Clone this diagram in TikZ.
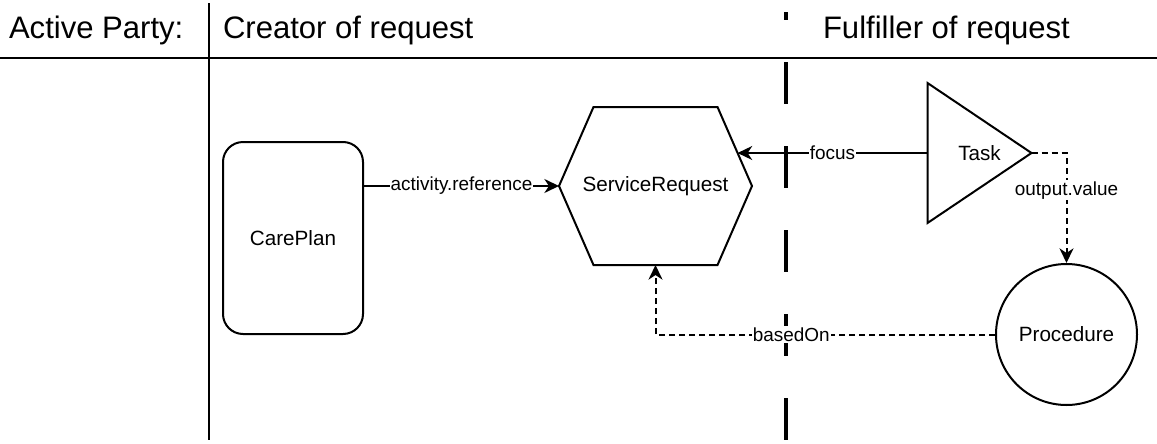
\documentclass[tikz,border=0pt]{standalone}
\usepackage{fontspec}
\setmainfont{Liberation Sans}
\usetikzlibrary{calc, positioning, arrows.meta}

\begin{document}
\begin{tikzpicture}[x=0.75pt, y=-0.75pt, line width=1.5pt,
                every node/.style={inner sep=0.5mm},
                hdr/.style={font=\fontsize{23.3}{28}\selectfont, anchor=base west, inner sep=0pt},
                res/.style={font=\fontsize{15.5}{19}\selectfont},
                box/.style={res, draw, rounded corners=15pt, minimum width=105pt, minimum height=144pt},
                hexa/.style={res, outer sep=0pt, minimum width=144.75pt, minimum height=118.5pt},
                tri/.style={res, outer sep=0pt, minimum width=78pt, minimum height=105pt},
                circ/.style={res, draw, circle, minimum size=105.75pt},
                lbl/.style={font=\fontsize{14.2}{17}\selectfont, fill=white, inner sep=0.3mm},
                ref/.style={-{Stealth[length=11pt, width=10.5pt, inset=3.5pt]}},
                dref/.style={ref, dash pattern=on 4.5pt off 3pt},
                lane/.style={line width=3pt, dash pattern=on 31.5pt off 31.5pt, dash phase=25.5pt}]

    \useasboundingbox (0,0) rectangle (1157,443); % same size as the reference, in px

    % swim lanes
    \draw (0,58) -- (1157,58);
    \draw (209,3) -- (209,440);
    \draw[lane] (786,12) -- (786,440);

    \node[hdr] (party)     at (8,38)   {Active Party:};
    \node[hdr] (creator)   at (222,38) {Creator of request};
    \node[hdr] (fulfiller) at (822,38) {Fulfiller of request};

    % resources
    \node[box]  (cp)   at (293,238)      {CarePlan};
    \node[hexa] (sr)   at (655.5,186)    {ServiceRequest};
    \node[tri]  (task) at (979.5,153)    {Task};
    \node[circ] (proc) at (1066.5,334.5) {Procedure};

    \draw (sr.west) -- ($(sr.north west)+(34.5,0)$) -- ($(sr.north east)+(-34.5,0)$) -- (sr.east)
          -- ($(sr.south east)+(-34.5,0)$) -- ($(sr.south west)+(34.5,0)$) -- cycle;
    \draw (task.north west) -- (task.east) -- (task.south west) -- cycle;

    \coordinate (srne)  at ($(sr.north east)+(-34.5,0)$);
    \coordinate (srhit) at ($(srne)!0.582!(sr.east)$); % where focus meets the hexagon

    % references
    \draw[ref]  (cp.east |- sr.west) -- node[lbl] {activity.reference} (sr.west);
    \draw[ref]  (task.west) -- node[lbl] {focus} (task.west -| srhit);
    \draw[dref] (task.east) -| node[lbl, pos=0.67] {output.value} (proc.north);
    \draw[dref] (proc.west) -| node[lbl, pos=0.3] {basedOn} (sr.south);

\end{tikzpicture}
\end{document}
